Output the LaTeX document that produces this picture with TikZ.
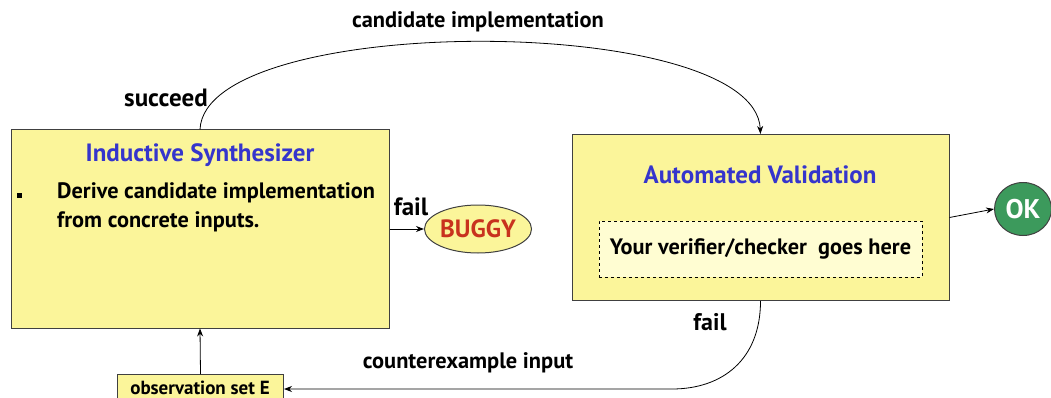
\documentclass[tikz,border=0pt]{standalone}
\usepackage{fontspec}
\setmainfont{PT Sans}
\usetikzlibrary{shapes.geometric,arrows.meta}
\definecolor{boxyellow}{HTML}{FBF59A}
\definecolor{lightyellow}{HTML}{FFFDD2}
\definecolor{titleblue}{HTML}{3535CC}
\definecolor{buggyred}{HTML}{C8321E}
\definecolor{okgreen}{HTML}{3C9A5C}
\definecolor{edgegray}{HTML}{404040}
\begin{document}
\begin{tikzpicture}[x=1pt,y=-1pt,
  box/.style={draw=edgegray, line width=1pt, fill=boxyellow, inner sep=0pt},
  lbl/.style={font=\fontsize{22.4}{26}\selectfont\bfseries, inner sep=0pt},
  ttl/.style={font=\fontsize{25}{28}\selectfont\bfseries, text=titleblue, inner sep=0pt},
  conn/.style={draw=black, line width=0.8pt, -{Stealth[length=8pt,width=6pt]}}]
\useasboundingbox (0,0) rectangle (1051,398);
% boxes
\node[box, minimum width=378pt, minimum height=198pt] (synth) at (200,229) {};
\node[box, minimum width=377pt, minimum height=166pt] (valid) at (760.5,217.5) {};
\node[draw=black, dashed, line width=0.8pt, fill=lightyellow, minimum width=323pt, minimum height=56pt, inner sep=0pt] (checker) at (760.5,249) {};
\node[lbl, font=\fontsize{22.3}{26}\selectfont\bfseries] (checkertxt) at (760.5,249) {Your verifier/checker\ \ goes here};
\node[ttl] (synthtitle) at (200,155) {Inductive Synthesizer};
\node[ttl] (validtitle) at (760,175) {Automated Validation};
\node[fill=black, minimum size=5pt, inner sep=0pt] (bullet) at (19,195) {};
\node[lbl, anchor=west, align=left, font=\fontsize{22.3}{29}\selectfont\bfseries] (derive) at (57,207.5) {Derive candidate implementation\\from concrete inputs.};
\node[box, ellipse, minimum width=105pt, minimum height=48pt, font=\fontsize{25}{28}\selectfont\bfseries, text=buggyred] (buggy) at (478,229) {BUGGY};
\node[ellipse, draw=edgegray, line width=1pt, fill=okgreen, minimum width=57pt, minimum height=53pt, inner sep=0pt, font=\fontsize{27}{30}\selectfont\bfseries, text=white] (ok) at (1023,209) {OK};
\node[box, minimum width=166pt, minimum height=30pt, anchor=north west] (obs) at (117,374) {};
\node[lbl, font=\fontsize{19}{22}\selectfont\bfseries] (obstxt) at (200,388) {observation set E};
% labels
\node[lbl, font=\fontsize{25}{28}\selectfont\bfseries] (succeed) at (166,98) {succeed};
\node[lbl] (candimpl) at (478,22) {candidate implementation};
\node[lbl, font=\fontsize{25}{28}\selectfont\bfseries] (fail1) at (411,207) {fail};
\node[lbl, font=\fontsize{24}{28}\selectfont\bfseries] (fail2) at (710,322) {fail};
\node[lbl] (cex) at (468,363) {counterexample input};
% connectors
\draw[conn] (synth.north) .. controls (205,12) and (755,12) .. (valid.north);
\draw[conn] (synth.east) -- (buggy.west);
\draw[conn] (valid.east) -- (ok.west);
\draw[conn] (obs.north) -- (synth.south);
\coordinate (bend) at (672,389);
\draw[conn] (valid.south) .. controls (760.5,360) and (722,389) .. (bend) -- (obs.east |- bend);
\end{tikzpicture}
\end{document}
